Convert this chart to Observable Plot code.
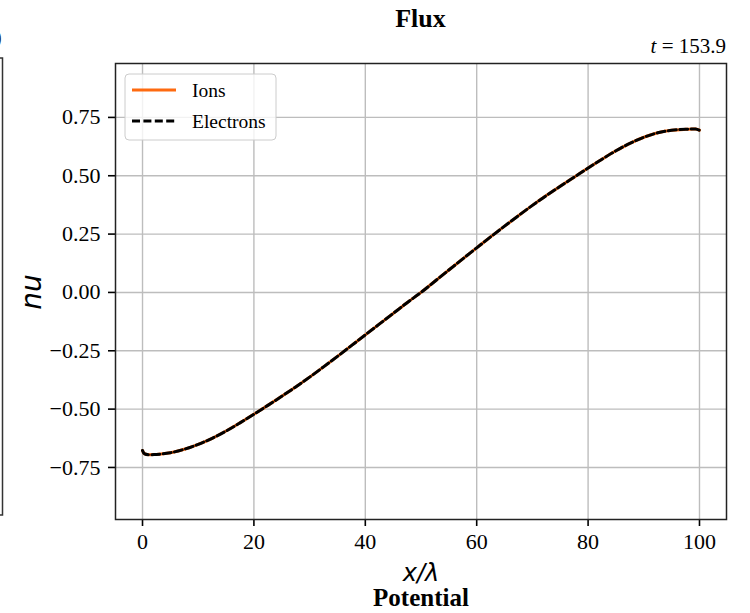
<!DOCTYPE html>
<html>
<head>
<meta charset="utf-8">
<script src="https://cdn.jsdelivr.net/npm/d3@7"></script>
<script src="https://cdn.jsdelivr.net/npm/@observablehq/plot@0.6"></script>
<style>
  html, body { margin: 0; padding: 0; background: white; }
  #wrap { position: relative; width: 750px; height: 613px; overflow: hidden; }
  #overlay { position: absolute; left: 0; top: 0; pointer-events: none; }
</style>
</head>
<body>
<div id="wrap"></div>
<script>
// ---- data ----
const xPos = [0, 0.4, 2.5, 5, 7.5, 10, 12.5, 15, 17.5, 20, 22.5, 25, 27.5, 30, 32.5, 35, 37.5, 40,
  42.5, 45, 47.5, 50, 52.5, 55, 57.5, 60, 62.5, 65, 67.5, 70, 72.5, 75, 77.5, 80, 82.5, 85,
  87.5, 90, 92.5, 95, 97.5, 99.3, 100];
const ionsFlux = [-0.677, -0.692, -0.694, -0.687, -0.672, -0.651, -0.625, -0.594, -0.559, -0.522,
  -0.484, -0.445, -0.405, -0.363, -0.319, -0.274, -0.228, -0.182, -0.136, -0.090, -0.044, 0.000,
  0.048, 0.096, 0.144, 0.191, 0.238, 0.284, 0.329, 0.373, 0.415, 0.455, 0.494, 0.533, 0.571,
  0.607, 0.639, 0.665, 0.684, 0.695, 0.699, 0.700, 0.695];
const electronsFlux = [-0.677, -0.692, -0.694, -0.687, -0.672, -0.651, -0.625, -0.594, -0.559, -0.522,
  -0.484, -0.445, -0.405, -0.363, -0.319, -0.274, -0.228, -0.182, -0.136, -0.090, -0.044, 0.000,
  0.048, 0.096, 0.144, 0.191, 0.238, 0.284, 0.329, 0.373, 0.415, 0.455, 0.494, 0.533, 0.571,
  0.607, 0.639, 0.665, 0.684, 0.695, 0.699, 0.700, 0.695];
const xTicks = [0, 20, 40, 60, 80, 100];
const yTicks = [-0.75, -0.5, -0.25, 0, 0.25, 0.5, 0.75];
const seriesNames = ["Ions", "Electrons"];
const titleText = "Flux";
const timeText = "153.9";

const ions = xPos.map((x, i) => ({x, y: ionsFlux[i]}));
const electrons = xPos.map((x, i) => ({x, y: electronsFlux[i]}));

const ORANGE = "#fe6a10";
const fmtY = d => (d < 0 ? "\u2212" : "") + Math.abs(d).toFixed(2);

const chart = Plot.plot({
  width: 750,
  height: 613,
  marginLeft: 115,
  marginRight: 24,
  marginTop: 63,
  marginBottom: 94,
  style: {fontFamily: "Liberation Serif", fontSize: "22px", color: "black", background: "white"},
  x: {domain: [-4.85, 104.85], label: null},
  y: {domain: [-0.973, 0.981], label: null},
  marks: [
    Plot.gridX(xTicks, {stroke: "#bdbdbd", strokeOpacity: 1, strokeWidth: 1.4}),
    Plot.gridY(yTicks, {stroke: "#bdbdbd", strokeOpacity: 1, strokeWidth: 1.4}),
    Plot.line(ions, {x: "x", y: "y", stroke: ORANGE, strokeWidth: 3, curve: "catmull-rom"}),
    Plot.line(electrons, {x: "x", y: "y", stroke: "black", strokeWidth: 3, strokeDasharray: "8,3.4", curve: "catmull-rom"}),
    Plot.axisX({ticks: xTicks, tickSize: 7, tickPadding: 7, strokeWidth: 1.6, fontSize: 22, label: null, tickFormat: d => String(d)}),
    Plot.axisY({ticks: yTicks, tickSize: 7, tickPadding: 8, strokeWidth: 1.6, fontSize: 22, label: null, tickFormat: fmtY}),
    Plot.frame({stroke: "#222", strokeWidth: 1.5})
  ]
});
const wrap = document.getElementById("wrap");
wrap.appendChild(chart);

// ---- overlay: titles, labels, legend, neighbouring panel edge ----
const NS = "http://www.w3.org/2000/svg";
const ov = document.createElementNS(NS, "svg");
ov.setAttribute("id", "overlay");
ov.setAttribute("width", 750);
ov.setAttribute("height", 613);
function el(tag, attrs, text) {
  const e = document.createElementNS(NS, tag);
  for (const k in attrs) e.setAttribute(k, attrs[k]);
  if (text != null) e.textContent = text;
  ov.appendChild(e);
  return e;
}
// neighbouring panel edge
el("path", {d: "M0,58H2.5V515H0", fill: "none", stroke: "#333", "stroke-width": 1.5});
el("text", {x: -5, y: 44, fill: "#222", "font-family": "Liberation Serif", "font-size": 20}, ")");

// title
el("text", {x: 420.5, y: 27, fill: "black", "text-anchor": "middle", "font-family": "Liberation Serif", "font-weight": "bold", "font-size": 26}, titleText);
// time annotation
const tt = el("text", {x: 726, y: 53, fill: "black", "text-anchor": "end", "font-family": "Liberation Serif", "font-size": 21});
const ts1 = document.createElementNS(NS, "tspan"); ts1.setAttribute("font-style", "italic"); ts1.textContent = "t"; tt.appendChild(ts1);
const ts2 = document.createElementNS(NS, "tspan"); ts2.textContent = " = " + timeText; tt.appendChild(ts2);

// axis labels
el("text", {transform: "translate(41,292) rotate(-90)", fill: "black", "text-anchor": "middle", "font-family": "DejaVu Sans", "font-style": "italic", "font-size": 28}, "nu");
el("text", {x: 421, y: 581, fill: "black", "text-anchor": "middle", "font-family": "DejaVu Sans", "font-style": "italic", "font-size": 24}, "x/\u03bb");
el("text", {x: 421, y: 606, fill: "black", "text-anchor": "middle", "font-family": "Liberation Serif", "font-weight": "bold", "font-size": 25}, "Potential");

// legend
el("rect", {x: 125, y: 74, width: 151, height: 66, rx: 4, fill: "white", "fill-opacity": 0.8, stroke: "#cccccc", "stroke-width": 1});
el("line", {x1: 132, x2: 176, y1: 90, y2: 90, stroke: ORANGE, "stroke-width": 2.8});
el("line", {x1: 132, x2: 176, y1: 121, y2: 121, stroke: "black", "stroke-width": 2.8, "stroke-dasharray": "8,3.4"});
el("text", {x: 192, y: 97, fill: "black", "font-family": "Liberation Serif", "font-size": 19.5}, seriesNames[0]);
el("text", {x: 192, y: 128, fill: "black", "font-family": "Liberation Serif", "font-size": 19.5}, seriesNames[1]);

wrap.appendChild(ov);
</script>
</body>
</html>
